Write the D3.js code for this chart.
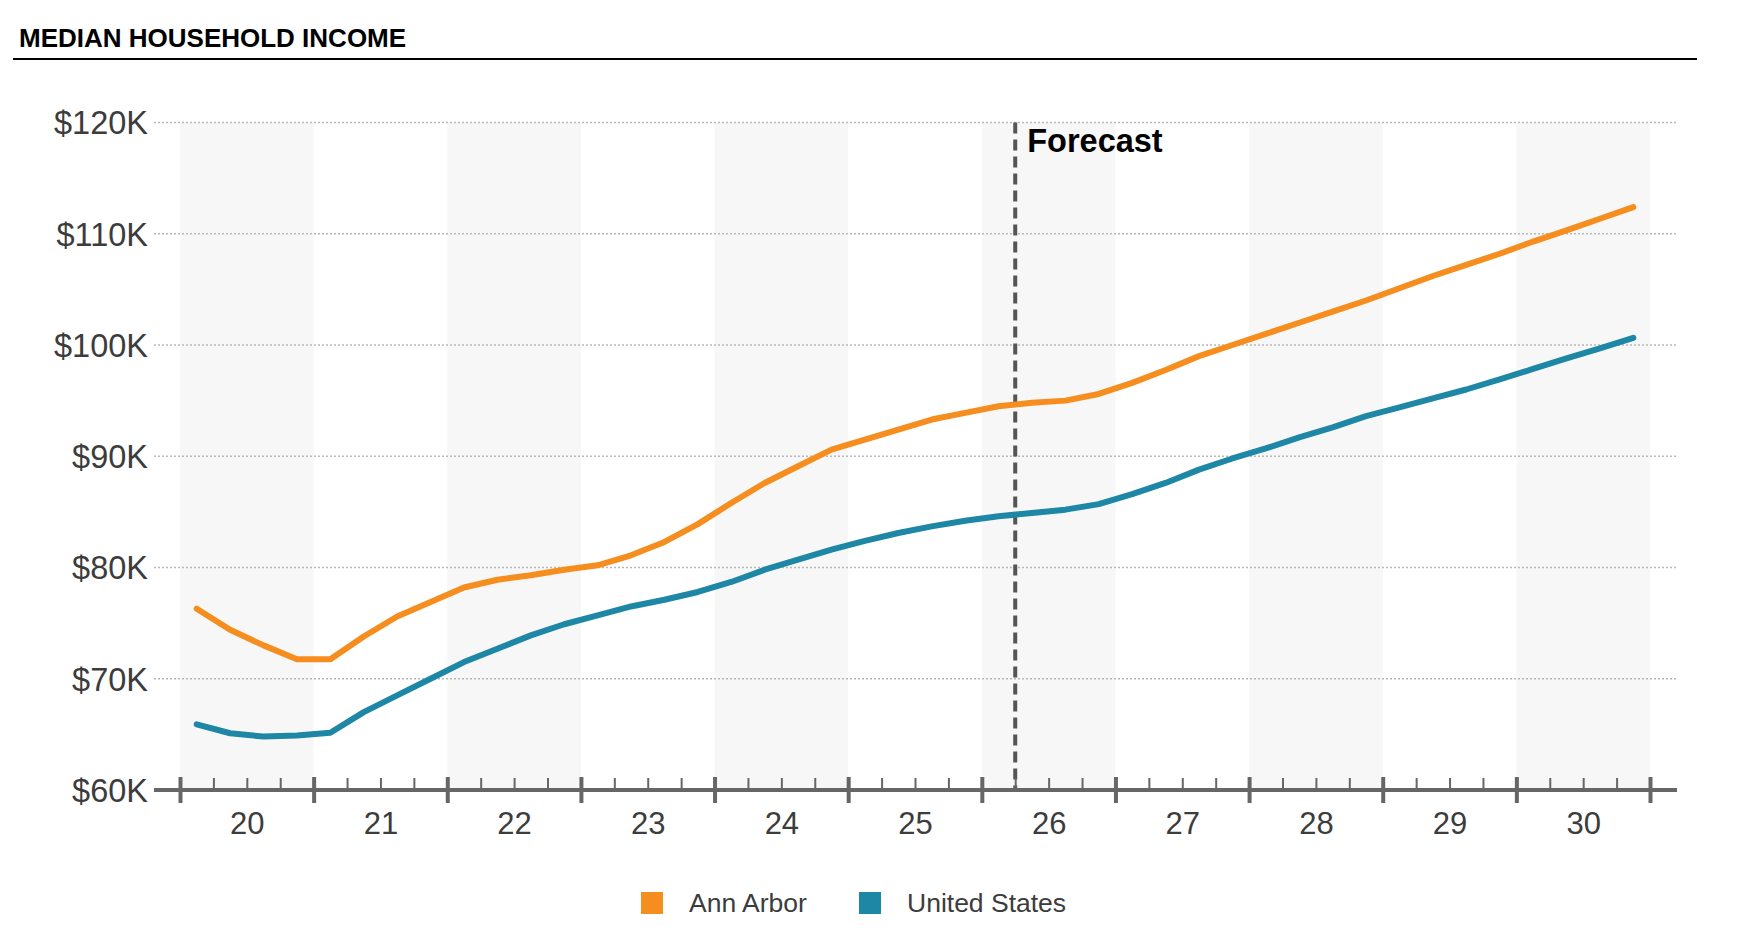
<!DOCTYPE html>
<html>
<head>
<meta charset="utf-8">
<script src="https://cdn.jsdelivr.net/npm/d3@7"></script>
<style>
  html, body { margin: 0; padding: 0; background: #fff; }
  svg { display: block; font-family: "Liberation Sans", Arial, sans-serif; }
</style>
</head>
<body>
<svg id="chart" width="1742" height="946"></svg>
<script>
// ---- data ----
const title = "MEDIAN HOUSEHOLD INCOME";
const years = [2020, 2021, 2022, 2023, 2024, 2025, 2026, 2027, 2028, 2029, 2030];
const yearLabels = ["20", "21", "22", "23", "24", "25", "26", "27", "28", "29", "30"];
const yTicks = [60000, 70000, 80000, 90000, 100000, 110000, 120000];
const seriesNames = ["Ann Arbor", "United States"];
const seriesColors = ["#f68e1f", "#1d87a5"];
const forecastStart = 2026.25;
const forecastLabel = "Forecast";
// quarterly values, 2020 Q1 .. 2030 Q4
const annArbor = [
  76300, 74400, 73000, 71750,
  71750, 73800, 75600, 76900,
  78200, 78900, 79300, 79800,
  80200, 81100, 82300, 83900,
  85800, 87600, 89100, 90600,
  91500, 92400, 93300, 93900,
  94500, 94800, 95000, 95600,
  96600, 97750, 99000, 100000,
  101000, 102000, 103000, 104000,
  105100, 106200, 107200, 108200,
  109300, 110300, 111350, 112400
];
const unitedStates = [
  65900, 65100, 64800, 64900,
  65150, 67000, 68500, 70000,
  71500, 72700, 73900, 74900,
  75700, 76500, 77100, 77800,
  78700, 79800, 80700, 81600,
  82400, 83100, 83700, 84200,
  84600, 84900, 85200, 85700,
  86600, 87600, 88800, 89800,
  90700, 91700, 92600, 93600,
  94400, 95200, 96000, 96900,
  97850, 98800, 99700, 100650
];

// ---- layout ----
const svg = d3.select("#chart");
const x = d3.scaleLinear().domain([2020, 2031]).range([180, 1650]);
const y = d3.scaleLinear().domain([60000, 120000]).range([790, 122.5]);
const gridX0 = 154, gridX1 = 1677;
const qTime = i => 2020 + (i + 0.5) / 4;

// title + rule
svg.append("text").attr("x", 19).attr("y", 47)
  .attr("font-size", 26).attr("font-weight", "bold").attr("fill", "#000")
  .text(title);
svg.append("line").attr("x1", 13).attr("x2", 1697).attr("y1", 59).attr("y2", 59)
  .attr("stroke", "#000").attr("stroke-width", 2);

// alternating year bands
svg.append("g").selectAll("rect")
  .data(years.filter((d, i) => i % 2 === 0))
  .join("rect")
  .attr("x", d => x(d)).attr("width", d => x(d + 1) - x(d))
  .attr("y", y(120000)).attr("height", y(60000) - y(120000))
  .attr("fill", "#f7f7f7");

// gridlines
svg.append("g").selectAll("line")
  .data(yTicks.filter(d => d > 60000))
  .join("line")
  .attr("x1", gridX0).attr("x2", gridX1)
  .attr("y1", d => y(d)).attr("y2", d => y(d))
  .attr("stroke", "#b8b8b8").attr("stroke-width", 1.5).attr("stroke-dasharray", "2,2");

// y axis labels
const yAxis = svg.append("g").attr("transform", `translate(${gridX0 - 6},0)`)
  .call(d3.axisLeft(y).tickValues(yTicks).tickSize(0).tickPadding(0)
    .tickFormat(d => "$" + (d / 1000) + "K"));
yAxis.select(".domain").remove();
yAxis.selectAll("text").attr("font-size", 32.5).attr("fill", "#3c3c3c")
  .attr("font-family", "'Liberation Sans', Arial, sans-serif").attr("dy", "0.35em");

// forecast line
svg.append("line")
  .attr("x1", x(forecastStart)).attr("x2", x(forecastStart))
  .attr("y1", y(120000)).attr("y2", y(60000))
  .attr("stroke", "#555").attr("stroke-width", 4).attr("stroke-dasharray", "11,6");
svg.append("text").attr("x", x(forecastStart) + 12).attr("y", 152)
  .attr("font-size", 32.5).attr("font-weight", "bold").attr("fill", "#000")
  .text(forecastLabel);

// lines
const line = d3.line().x((d, i) => x(qTime(i))).y(d => y(d));
[annArbor, unitedStates].forEach((s, k) => {
  svg.append("path").datum(s).attr("d", line)
    .attr("fill", "none").attr("stroke", seriesColors[k]).attr("stroke-width", 6)
    .attr("stroke-linejoin", "round").attr("stroke-linecap", "round");
});

// x axis
const axisY = y(60000);
svg.append("line").attr("x1", gridX0).attr("x2", gridX1).attr("y1", axisY).attr("y2", axisY)
  .attr("stroke", "#666").attr("stroke-width", 4);

const minorVals = [];
years.forEach(yr => { [0.25, 0.5, 0.75].forEach(f => minorVals.push(yr + f)); });
const minorAxis = svg.append("g").attr("transform", `translate(0,${axisY})`)
  .call(d3.axisTop(x).tickValues(minorVals).tickSize(12).tickFormat(""));
minorAxis.select(".domain").remove();
minorAxis.selectAll("line").attr("stroke", "#666").attr("stroke-width", 2);

const majorAxis = svg.append("g").attr("transform", `translate(0,${axisY})`)
  .call(d3.axisBottom(x).tickValues(years.concat([2031])).tickSize(13).tickFormat(""));
majorAxis.select(".domain").remove();
majorAxis.selectAll("line").attr("y1", -13).attr("y2", 13)
  .attr("stroke", "#666").attr("stroke-width", 4);

const labelAxis = svg.append("g").attr("transform", `translate(0,${axisY})`)
  .call(d3.axisBottom(x).tickValues(years.map(d => d + 0.5)).tickSize(0).tickPadding(0)
    .tickFormat((d, i) => yearLabels[i]));
labelAxis.select(".domain").remove();
labelAxis.selectAll("text").attr("font-size", 31).attr("fill", "#3c3c3c")
  .attr("font-family", "'Liberation Sans', Arial, sans-serif")
  .attr("y", 44).attr("dy", 0);

// legend
const legendPos = [641, 859];
const lg = svg.append("g");
seriesNames.forEach((n, k) => {
  lg.append("rect").attr("x", legendPos[k]).attr("y", 892).attr("width", 22).attr("height", 22)
    .attr("fill", seriesColors[k]);
  lg.append("text").attr("x", legendPos[k] + 48).attr("y", 912)
    .attr("font-size", 26.5).attr("fill", "#3c3c3c").text(n);
});
</script>
</body>
</html>
